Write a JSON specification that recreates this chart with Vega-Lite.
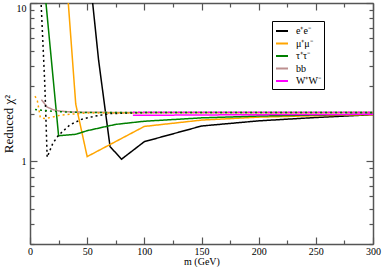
{
  "$schema": "https://vega.github.io/schema/vega-lite/v6.json",
  "autosize": "none",
  "width": 343,
  "height": 241,
  "padding": {"left": 30, "top": 3, "right": 9, "bottom": 23},
  "config": {
    "font": "Liberation Serif",
    "view": {"stroke": null},
    "axis": {
      "domainColor": "#555555",
      "domainWidth": 1.5,
      "tickColor": "#555555",
      "tickWidth": 1.2,
      "grid": false,
      "labelFont": "Liberation Serif",
      "titleFont": "Liberation Serif",
      "labelFontSize": 10,
      "titleFontSize": 10,
      "titleFontWeight": "normal",
      "labelColor": "#000000",
      "titleColor": "#000000"
    }
  },
  "data": {
    "values": [
      {"ch": "e⁺e⁻", "fit": "solid", "m": 50, "chi2": 21.6},
      {"ch": "e⁺e⁻", "fit": "solid", "m": 60, "chi2": 4.35},
      {"ch": "e⁺e⁻", "fit": "solid", "m": 70, "chi2": 1.24},
      {"ch": "e⁺e⁻", "fit": "solid", "m": 80, "chi2": 1.03},
      {"ch": "e⁺e⁻", "fit": "solid", "m": 100, "chi2": 1.33},
      {"ch": "e⁺e⁻", "fit": "solid", "m": 150, "chi2": 1.67},
      {"ch": "e⁺e⁻", "fit": "solid", "m": 200, "chi2": 1.8},
      {"ch": "e⁺e⁻", "fit": "solid", "m": 250, "chi2": 1.89},
      {"ch": "e⁺e⁻", "fit": "solid", "m": 300, "chi2": 1.97},

      {"ch": "μ⁺μ⁻", "fit": "solid", "m": 30, "chi2": 22},
      {"ch": "μ⁺μ⁻", "fit": "solid", "m": 40, "chi2": 2.3},
      {"ch": "μ⁺μ⁻", "fit": "solid", "m": 50, "chi2": 1.07},
      {"ch": "μ⁺μ⁻", "fit": "solid", "m": 100, "chi2": 1.66},
      {"ch": "μ⁺μ⁻", "fit": "solid", "m": 150, "chi2": 1.82},
      {"ch": "μ⁺μ⁻", "fit": "solid", "m": 200, "chi2": 1.9},
      {"ch": "μ⁺μ⁻", "fit": "solid", "m": 250, "chi2": 1.94},
      {"ch": "μ⁺μ⁻", "fit": "solid", "m": 300, "chi2": 1.97},

      {"ch": "τ⁺τ⁻", "fit": "solid", "m": 10, "chi2": 20},
      {"ch": "τ⁺τ⁻", "fit": "solid", "m": 25, "chi2": 1.45},
      {"ch": "τ⁺τ⁻", "fit": "solid", "m": 40, "chi2": 1.48},
      {"ch": "τ⁺τ⁻", "fit": "solid", "m": 50, "chi2": 1.56},
      {"ch": "τ⁺τ⁻", "fit": "solid", "m": 75, "chi2": 1.71},
      {"ch": "τ⁺τ⁻", "fit": "solid", "m": 100, "chi2": 1.79},
      {"ch": "τ⁺τ⁻", "fit": "solid", "m": 150, "chi2": 1.88},
      {"ch": "τ⁺τ⁻", "fit": "solid", "m": 200, "chi2": 1.93},
      {"ch": "τ⁺τ⁻", "fit": "solid", "m": 250, "chi2": 1.96},
      {"ch": "τ⁺τ⁻", "fit": "solid", "m": 300, "chi2": 1.98},

      {"ch": "bb", "fit": "solid", "m": 10, "chi2": 2.45},
      {"ch": "bb", "fit": "solid", "m": 15, "chi2": 2.2},
      {"ch": "bb", "fit": "solid", "m": 20, "chi2": 2.12},
      {"ch": "bb", "fit": "solid", "m": 25, "chi2": 2.08},
      {"ch": "bb", "fit": "solid", "m": 35, "chi2": 2.05},
      {"ch": "bb", "fit": "solid", "m": 50, "chi2": 2.04},
      {"ch": "bb", "fit": "solid", "m": 100, "chi2": 2.03},
      {"ch": "bb", "fit": "solid", "m": 300, "chi2": 2.03},

      {"ch": "W⁺W⁻", "fit": "solid", "m": 90, "chi2": 1.95},
      {"ch": "W⁺W⁻", "fit": "solid", "m": 200, "chi2": 1.97},
      {"ch": "W⁺W⁻", "fit": "solid", "m": 300, "chi2": 1.98},

      {"ch": "e⁺e⁻", "fit": "dot", "m": 9, "chi2": 13},
      {"ch": "e⁺e⁻", "fit": "dot", "m": 13, "chi2": 3.0},
      {"ch": "e⁺e⁻", "fit": "dot", "m": 15, "chi2": 1.06},
      {"ch": "e⁺e⁻", "fit": "dot", "m": 20, "chi2": 1.3},
      {"ch": "e⁺e⁻", "fit": "dot", "m": 25, "chi2": 1.46},
      {"ch": "e⁺e⁻", "fit": "dot", "m": 35, "chi2": 1.7},
      {"ch": "e⁺e⁻", "fit": "dot", "m": 45, "chi2": 1.84},
      {"ch": "e⁺e⁻", "fit": "dot", "m": 57, "chi2": 1.93},
      {"ch": "e⁺e⁻", "fit": "dot", "m": 70, "chi2": 2.0},
      {"ch": "e⁺e⁻", "fit": "dot", "m": 100, "chi2": 2.03},
      {"ch": "e⁺e⁻", "fit": "dot", "m": 300, "chi2": 2.03},

      {"ch": "μ⁺μ⁻", "fit": "dot", "m": 4.4, "chi2": 2.58},
      {"ch": "μ⁺μ⁻", "fit": "dot", "m": 6.5, "chi2": 2.4},
      {"ch": "μ⁺μ⁻", "fit": "dot", "m": 9, "chi2": 1.89},
      {"ch": "μ⁺μ⁻", "fit": "dot", "m": 13, "chi2": 1.86},
      {"ch": "μ⁺μ⁻", "fit": "dot", "m": 18, "chi2": 1.89},
      {"ch": "μ⁺μ⁻", "fit": "dot", "m": 26, "chi2": 1.95},
      {"ch": "μ⁺μ⁻", "fit": "dot", "m": 35, "chi2": 1.98},
      {"ch": "μ⁺μ⁻", "fit": "dot", "m": 50, "chi2": 2.02},
      {"ch": "μ⁺μ⁻", "fit": "dot", "m": 300, "chi2": 2.03},

      {"ch": "τ⁺τ⁻", "fit": "dot", "m": 4.4, "chi2": 2.12},
      {"ch": "τ⁺τ⁻", "fit": "dot", "m": 10, "chi2": 2.1},
      {"ch": "τ⁺τ⁻", "fit": "dot", "m": 20, "chi2": 2.07},
      {"ch": "τ⁺τ⁻", "fit": "dot", "m": 30, "chi2": 2.05},
      {"ch": "τ⁺τ⁻", "fit": "dot", "m": 50, "chi2": 2.03},
      {"ch": "τ⁺τ⁻", "fit": "dot", "m": 300, "chi2": 2.03},

      {"ch": "W⁺W⁻", "fit": "dot", "m": 90, "chi2": 2.04},
      {"ch": "W⁺W⁻", "fit": "dot", "m": 300, "chi2": 2.04}
    ]
  },
  "layer": [
    {
      "mark": {"type": "line", "clip": true, "strokeWidth": 1.5, "strokeCap": "butt"},
      "encoding": {
        "x": {
          "field": "m", "type": "quantitative",
          "scale": {"domain": [0, 300], "nice": false},
          "axis": {
            "orient": "bottom",
            "title": "m (GeV)",
            "values": [0, 25, 50, 75, 100, 125, 150, 175, 200, 225, 250, 275, 300],
            "labelExpr": "datum.value % 50 == 0 ? datum.label : ''",
            "tickSize": {"condition": {"test": "datum.value % 50 == 0", "value": -7}, "value": -4},
            "labelPadding": 9,
            "labelFlush": false,
            "titlePadding": 0
          }
        },
        "y": {
          "field": "chi2", "type": "quantitative",
          "scale": {"type": "log", "domain": [0.3, 10], "nice": false},
          "axis": {
            "orient": "left",
            "title": "Reduced χ²",
            "titleFontSize": 13,
            "values": [0.3, 0.4, 0.5, 0.6, 0.7, 0.8, 0.9, 1, 2, 3, 4, 5, 6, 7, 8, 9, 10],
            "labelExpr": "datum.value == 1 ? '1' : (datum.value == 10 ? '10' : '')",
            "tickSize": {"condition": {"test": "datum.value == 1 || datum.value == 10", "value": -7}, "value": -4},
            "labelPadding": 11,
            "labelFlush": true,
            "titlePadding": 1
          }
        },
        "color": {
          "field": "ch", "type": "nominal",
          "scale": {
            "domain": ["e⁺e⁻", "μ⁺μ⁻", "τ⁺τ⁻", "bb", "W⁺W⁻"],
            "range": ["#000000", "#ffa500", "#008000", "#bc8f8f", "#ff00ff"]
          },
          "legend": {
            "title": null,
            "orient": "none",
            "legendX": 242,
            "legendY": 18,
            "strokeColor": "#000000",
            "fillColor": "#ffffff",
            "padding": 3,
            "symbolType": "stroke",
            "symbolSize": 144,
            "symbolStrokeWidth": 2,
            "labelFontSize": 10,
            "labelFont": "Liberation Serif",
            "labelOffset": 7,
            "rowPadding": 0.5
          }
        },
        "strokeDash": {
          "field": "fit", "type": "nominal",
          "scale": {"domain": ["solid", "dot"], "range": [[1, 0], [2, 3]]},
          "legend": null
        }
      }
    },
    {
      "mark": {"type": "point", "opacity": 0},
      "encoding": {
        "x": {
          "field": "m", "type": "quantitative",
          "axis": {
            "orient": "top",
            "title": null,
            "labels": false,
            "values": [0, 25, 50, 75, 100, 125, 150, 175, 200, 225, 250, 275, 300],
            "tickSize": {"condition": {"test": "datum.value % 50 == 0", "value": -7}, "value": -4}
          }
        },
        "y": {
          "field": "chi2", "type": "quantitative",
          "axis": {
            "orient": "right",
            "title": null,
            "labels": false,
            "values": [0.3, 0.4, 0.5, 0.6, 0.7, 0.8, 0.9, 1, 2, 3, 4, 5, 6, 7, 8, 9, 10],
            "tickSize": {"condition": {"test": "datum.value == 1 || datum.value == 10", "value": -7}, "value": -4}
          }
        }
      }
    }
  ],
  "resolve": {"axis": {"x": "independent", "y": "independent"}}
}
